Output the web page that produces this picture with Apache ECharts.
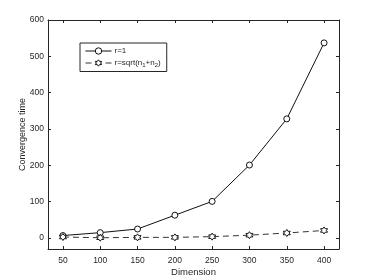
<!DOCTYPE html>
<html><head><meta charset="utf-8">
<script src="https://cdn.jsdelivr.net/npm/echarts@6/dist/echarts.min.js"></script>
<style>html,body{margin:0;padding:0;background:#fff}#c{width:374px;height:280px}</style>
</head><body><div id="c"></div>
<script>
const dimensions = [50, 100, 150, 200, 250, 300, 350, 400];
const rOne = [7, 15, 25, 63, 101, 201, 328, 537];
const rSqrt = [3, 1, 2, 2, 4, 8, 14, 21];
const xTicks = [50, 100, 150, 200, 250, 300, 350, 400];
const yTicks = [0, 100, 200, 300, 400, 500, 600];
const seriesNames = ['r=1', 'r=sqrt(n_1+n_2)'];

const hexagram = 'path://M0,-10 L2.887,-5 L8.66,-5 L5.774,0 L8.66,5 L2.887,5 L0,10 L-2.887,5 L-8.66,5 L-5.774,0 L-8.66,-5 L-2.887,-5 Z';
const axCol = '#262626';
const font = 'Liberation Sans, Arial, Helvetica, sans-serif';

const chart = echarts.init(document.getElementById('c'), null, {renderer: 'canvas'});
const baseX = {type: 'value', min: 30, max: 420,
  axisLine: {show: true, onZero: false, lineStyle: {color: axCol, width: 1}},
  axisTick: {show: true, inside: true, length: 3, customValues: xTicks, lineStyle: {color: axCol}},
  splitLine: {show: false}};
const baseY = {type: 'value', min: -30, max: 600,
  axisLine: {show: true, onZero: false, lineStyle: {color: axCol, width: 1}},
  axisTick: {show: true, inside: true, length: 3, customValues: yTicks, lineStyle: {color: axCol}},
  splitLine: {show: false}};

chart.setOption({
  animation: false,
  backgroundColor: '#fff',
  grid: {left: 48, top: 20, right: 35, bottom: 31, outerBoundsMode: 'none', containLabel: false},
  legend: {
    left: 80, top: 43, orient: 'vertical',
    padding: [4, 6, 3, 5], itemGap: 4,
    itemWidth: 26, itemHeight: 8,
    borderColor: axCol, borderWidth: 1, backgroundColor: '#fff',
    lineStyle: {width: 1},
    itemStyle: {borderWidth: 1},
    data: seriesNames,
    textStyle: {fontFamily: font, fontSize: 8, color: axCol, padding: [0, 0, 0, -2],
      rich: {sub: {fontFamily: font, fontSize: 6, color: axCol, padding: [5, 0, 0, 0]}}},
    formatter: function (n) { return n.replace(/_(\d)/g, '{sub|$1}'); }
  },
  xAxis: [
    Object.assign({}, baseX, {position: 'bottom',
      name: 'Dimension', nameLocation: 'middle', nameGap: 18, nameMoveOverlap: false,
      nameTextStyle: {fontFamily: font, fontSize: 9.5, color: axCol},
      axisLabel: {show: true, customValues: xTicks, fontFamily: font, fontSize: 8.5, color: axCol, margin: 7}}),
    Object.assign({}, baseX, {position: 'top', axisLabel: {show: false}})
  ],
  yAxis: [
    Object.assign({}, baseY, {position: 'left',
      name: 'Convergence time', nameLocation: 'middle', nameGap: 21, nameMoveOverlap: false,
      nameTextStyle: {fontFamily: font, fontSize: 9, color: axCol},
      axisLabel: {show: true, customValues: yTicks, fontFamily: font, fontSize: 8.5, color: axCol, margin: 4}}),
    Object.assign({}, baseY, {position: 'right', axisLabel: {show: false}})
  ],
  series: [
    {name: seriesNames[0], type: 'line', xAxisIndex: 0, yAxisIndex: 0,
     data: dimensions.map((d, i) => [d, rOne[i]]),
     symbol: 'circle', symbolSize: 6,
     lineStyle: {color: '#111', width: 1},
     itemStyle: {color: '#fff', borderColor: '#111', borderWidth: 1}},
    {name: seriesNames[1], type: 'line', xAxisIndex: 0, yAxisIndex: 0,
     data: dimensions.map((d, i) => [d, rSqrt[i]]),
     symbol: hexagram, symbolSize: 7,
     lineStyle: {color: '#333', width: 1, type: [6, 4]},
     itemStyle: {color: '#fff', borderColor: '#111', borderWidth: 1}}
  ]
});
</script></body></html>
